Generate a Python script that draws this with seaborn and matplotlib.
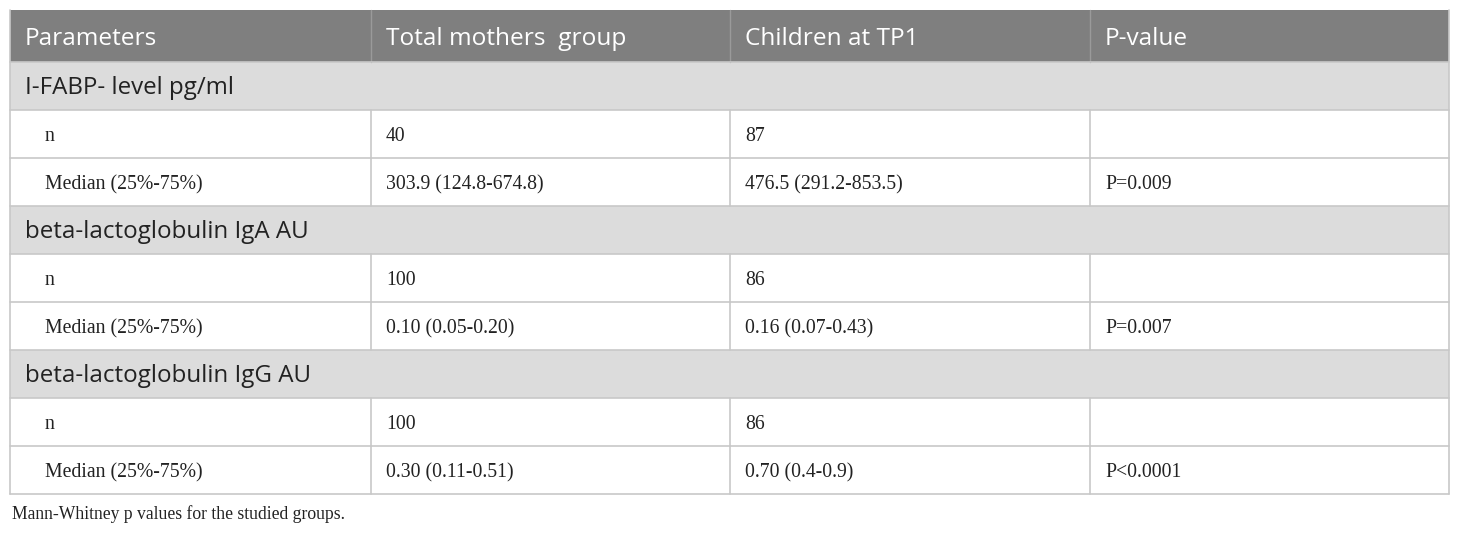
import matplotlib
matplotlib.use("Agg")
import matplotlib.pyplot as plt
import seaborn as sns
from matplotlib.patches import Rectangle

# table content
headers = ["Parameters", "Total mothers  group", "Children at TP1", "P-value"]
sections = ["I-FABP- level pg/ml", "beta-lactoglobulin IgA AU", "beta-lactoglobulin IgG AU"]
row_labels = ["n", "Median (25%-75%)"]
n_mothers = ["40", "100", "100"]
n_children = ["87", "86", "86"]
median_mothers = ["303.9 (124.8-674.8)", "0.10 (0.05-0.20)", "0.30 (0.11-0.51)"]
median_children = ["476.5 (291.2-853.5)", "0.16 (0.07-0.43)", "0.70 (0.4-0.9)"]
p_values = ["P=0.009", "P=0.007", "P<0.0001"]
caption = "Mann-Whitney p values for the studied groups."

sns.set_theme(style="white")
plt.rcParams["font.family"] = ["Open Sans", "DejaVu Sans"]

W, H = 1460, 535
fig = plt.figure(figsize=(W / 100, H / 100), dpi=100)
ax = fig.add_axes([0, 0, 1, 1])
ax.set_xlim(0, W)
ax.set_ylim(H, 0)
ax.axis("off")

col_x = [10, 371, 730, 1090, 1449]
left, right = col_x[0], col_x[-1]
header_h, row_h = 52, 48
header_bg = "#7f7f7f"
section_bg = "#dcdcdc"
line_col = "#c8c8c8"
text_col = "#222222"
serif = ["Liberation Serif", "DejaVu Serif"]
sans = ["Open Sans", "DejaVu Sans"]

# header
y = 10
ax.add_patch(Rectangle((left, y), right - left, header_h, facecolor=header_bg, edgecolor="none"))
for i, h in enumerate(headers):
    ax.text(col_x[i] + 15, y + 35, h, color="white", fontsize=17.6,
            family=sans, va="baseline", ha="left")
    if 0 < i:
        ax.plot([col_x[i], col_x[i]], [y, y + header_h], color="#9a9a9a", lw=1)
y += header_h

for s in range(len(sections)):
    ax.add_patch(Rectangle((left, y), right - left, row_h, facecolor=section_bg, edgecolor="none"))
    ax.text(left + 15, y + 32, sections[s], color=text_col, fontsize=17.4,
            family=sans, va="baseline", ha="left")
    ax.plot([left, right], [y, y], color=line_col, lw=1.2)
    y += row_h
    rows = [
        [row_labels[0], n_mothers[s], n_children[s], ""],
        [row_labels[1], median_mothers[s], median_children[s], p_values[s]],
    ]
    for cells in rows:
        ax.plot([left, right], [y, y], color=line_col, lw=1.2)
        for i, c in enumerate(cells):
            pad = 35 if i == 0 else 15
            ax.text(col_x[i] + pad, y + 31, c, color=text_col, fontsize=14.2,
                    family=serif, va="baseline", ha="left")
        for cx in col_x[1:-1]:
            ax.plot([cx, cx], [y, y + row_h], color=line_col, lw=1.2)
        y += row_h

ax.plot([left, right], [y, y], color=line_col, lw=1.2)
ax.plot([left, left], [10, y], color=line_col, lw=1.2)
ax.plot([right, right], [10, y], color=line_col, lw=1.2)

ax.text(left + 2, y + 25, caption, color=text_col, fontsize=12.7,
        family=serif, va="baseline", ha="left")

fig.savefig("out.png", dpi=100)
